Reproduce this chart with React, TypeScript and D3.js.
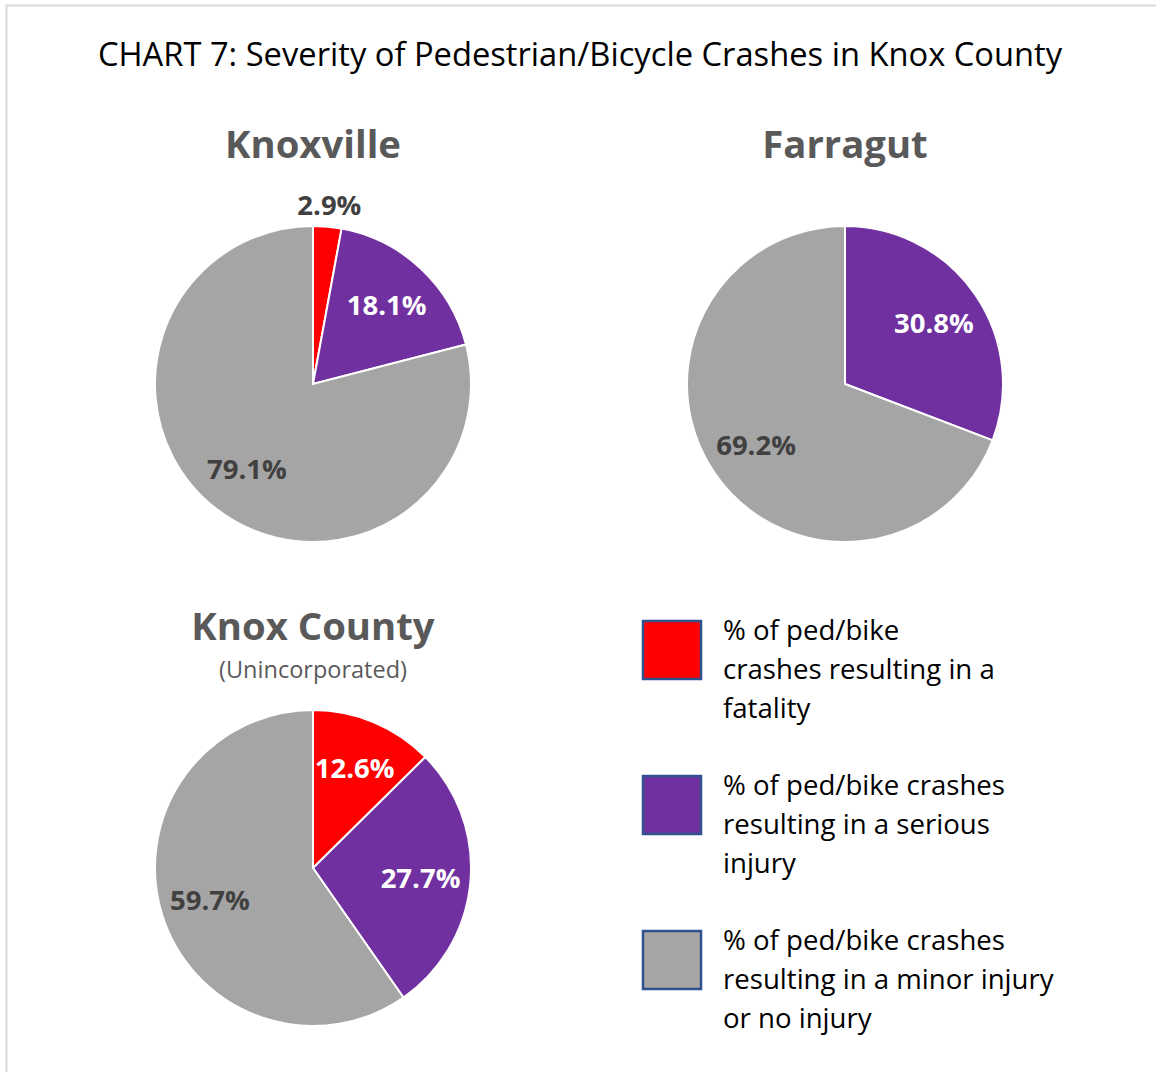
import React from "react";
import * as d3 from "d3";

// Severity categories (order of slices, clockwise from 12 o'clock)
const categories = ["fatality", "serious injury", "minor or no injury"];
const colors = ["#FF0000", "#7030A0", "#A5A5A5"];

const legendLabels = [
  ["% of ped/bike", "crashes resulting in a", "fatality"],
  ["% of ped/bike crashes", "resulting in a serious", "injury"],
  ["% of ped/bike crashes", "resulting in a minor injury", "or no injury"],
];

const regions = ["Knoxville", "Farragut", "Knox County"];
const subtitles = ["", "", "(Unincorporated)"];

// percent values per region: fatality, serious, minor/no injury
const knoxvilleValues = [2.9, 18.1, 79.1];
const farragutValues = [0, 30.8, 69.2];
const knoxCountyValues = [12.6, 27.7, 59.7];

const regionValues = [knoxvilleValues, farragutValues, knoxCountyValues];

const W = 1156;
const H = 1072;
const R = 158;
const centers = [
  [313, 384],
  [845, 384],
  [313, 868],
];
const FONT = "'Open Sans', 'Noto Sans', sans-serif";

const pie = d3
  .pie<number>()
  .sort(null)
  .value((d) => d);
const arc = d3.arc<d3.PieArcDatum<number>>().innerRadius(0).outerRadius(R);
const labelArc = d3.arc<d3.PieArcDatum<number>>().innerRadius(108).outerRadius(108);
const outerLabelArc = d3.arc<d3.PieArcDatum<number>>().innerRadius(180).outerRadius(180);

function Pie({ values, cx, cy }: { values: number[]; cx: number; cy: number }) {
  const arcs = pie(values).filter((a) => a.value > 0);
  return (
    <g transform={`translate(${cx},${cy})`}>
      {arcs.map((a) => (
        <path
          key={categories[a.index]}
          d={arc(a) || ""}
          fill={colors[a.index]}
          stroke="#fff"
          strokeWidth={2}
        />
      ))}
      {arcs.map((a) => {
        const outside = a.value < 5;
        const [x, y] = (outside ? outerLabelArc : labelArc).centroid(a);
        const dark = outside || a.index === 2;
        return (
          <text
            key={"l" + a.index}
            x={x}
            y={y}
            dy="0.36em"
            textAnchor="middle"
            fontFamily={FONT}
            fontWeight={700}
            fontSize={27.5}
            fill={dark ? "#404040" : "#fff"}
          >
            {a.value.toFixed(1) + "%"}
          </text>
        );
      })}
    </g>
  );
}

export default function App() {
  return (
    <svg
      width={W}
      height={H}
      style={{ position: "absolute", left: 0, top: 0, background: "#fff" }}
    >
      <rect x={0} y={0} width={W} height={H} fill="#fff" />
      <rect x={6.5} y={5.5} width={W + 20} height={H + 20} fill="none" stroke="#D9D9D9" strokeWidth={2} />

      <text
        x={580}
        y={66}
        textAnchor="middle"
        fontFamily={FONT}
        fontSize={32.7}
        fill="#000"
      >
        CHART 7: Severity of Pedestrian/Bicycle Crashes in Knox County
      </text>

      {regions.map((name, i) => {
        const [cx, cy] = centers[i];
        const titleY = i === 2 ? 640 : 158;
        return (
          <g key={name}>
            <text
              x={cx}
              y={titleY}
              textAnchor="middle"
              fontFamily={FONT}
              fontWeight={700}
              fontSize={38.3}
              fill="#595959"
            >
              {name}
            </text>
            {subtitles[i] && (
              <text
                x={cx}
                y={titleY + 38}
                textAnchor="middle"
                fontFamily={FONT}
                fontSize={23.5}
                fill="#595959"
              >
                {subtitles[i]}
              </text>
            )}
            <Pie values={regionValues[i]} cx={cx} cy={cy} />
          </g>
        );
      })}

      {/* Legend */}
      {legendLabels.map((lines, i) => {
        const top = 621 + i * 155;
        return (
          <g key={categories[i]}>
            <rect
              x={643}
              y={top}
              width={58}
              height={58}
              fill={colors[i]}
              stroke="#2F528F"
              strokeWidth={2.5}
            />
            {lines.map((ln, j) => (
              <text
                key={j}
                x={723}
                y={top + 19 + j * 39}
                fontFamily={FONT}
                fontSize={27.6}
                fill="#000"
              >
                {ln}
              </text>
            ))}
          </g>
        );
      })}
    </svg>
  );
}
